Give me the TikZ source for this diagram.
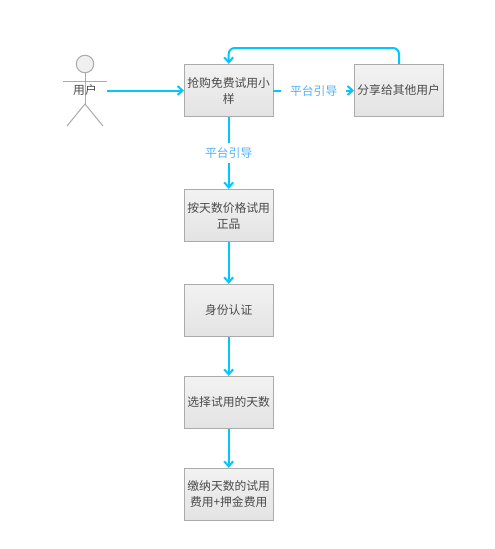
\documentclass[tikz,border=0pt]{standalone}
\usepackage{fontspec}
\setmainfont{Noto Sans CJK SC}
\definecolor{flow}{HTML}{00C8FF}
\definecolor{edgegrey}{HTML}{ABABAB}
\definecolor{labelblue}{HTML}{4DB2FF}
\definecolor{inktext}{HTML}{4A4A4A}
\usetikzlibrary{arrows.meta}
\tikzset{
  stepbox/.style={draw=edgegrey,line width=0.9pt,top color=black!5,bottom color=black!11,minimum width=88.5pt,minimum height=52.5pt,inner sep=0pt,align=center,text=inktext,font=\fontsize{11.8pt}{16pt}\selectfont,execute at begin node={\vspace*{2pt}}},
  flowline/.style={draw=flow,line width=2pt,-{Straight Barb[length=5pt,width=9pt,line width=2pt]}},
  actorline/.style={draw=edgegrey,line width=1pt},
  edgelabel/.style={text=labelblue,fill=white,inner xsep=9pt,inner ysep=5pt,font=\fontsize{11.8pt}{14pt}\selectfont},
}
\begin{document}
\begin{tikzpicture}[x=1pt,y=-1pt]
\useasboundingbox (0,0) rectangle (495,549);
\fill[white] (0,0) rectangle (495,549);
% actor
\node[circle,draw=edgegrey,line width=1pt,fill=black!6,minimum size=17.5pt,inner sep=0pt] (head) at (85,64) {};
\coordinate (armL) at (63,81);
\coordinate (armR) at (107,81);
\coordinate (hip) at (85,104);
\coordinate (legL) at (67,126);
\coordinate (legR) at (103,126);
\draw[actorline] (head) -- (hip);
\draw[actorline] (armL) -- (armR);
\draw[actorline] (legL) -- (hip) -- (legR);
\node[text=inktext,inner sep=0pt,font=\fontsize{11.8pt}{15pt}\selectfont] (user) at (85,90.5) {用户};
\coordinate (userR) at (107,90.5);
% boxes
\node[stepbox] (a) at (228.7,90.5) {抢购免费试用小\\样};
\node[stepbox] (s) at (398.7,90.5) {分享给其他用户};
\node[stepbox] (b) at (228.7,215.5) {按天数价格试用\\正品};
\node[stepbox] (c) at (228.7,310.5) {身份认证};
\node[stepbox] (d) at (228.7,402.5) {选择试用的天数};
\node[stepbox] (e) at (228.7,494.5) {缴纳天数的试用\\费用+押金费用};
% connectors
\draw[flowline] (userR) -- (a.west);
\draw[flowline] (a.east) -- (s.west) node[midway,edgelabel] (l1) {平台引导};
\draw[flowline] (a.south) -- (b.north) node[pos=0.5,edgelabel] (l2) {平台引导};
\draw[flowline] (b) -- (c);
\draw[flowline] (c) -- (d);
\draw[flowline] (d) -- (e);
\coordinate (tr) at (399,48);
\coordinate (tl) at (228.7,48);
\draw[flowline,rounded corners=6pt] (s.north -| tr) -- (tr) -- (tl) -- (a.north);
\end{tikzpicture}
\end{document}
